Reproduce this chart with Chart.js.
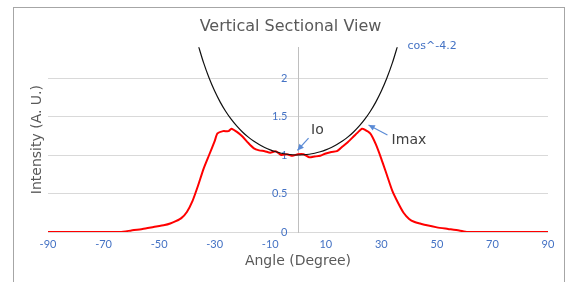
<!DOCTYPE html>
<html>
<head>
<meta charset="utf-8">
<script src="https://cdn.jsdelivr.net/npm/chart.js@4"></script>
<style>
  html, body { margin: 0; padding: 0; background: #fff; }
  canvas { display: block; }
</style>
</head>
<body>
<canvas id="chart" width="569" height="282"></canvas>
<script>
// measured red curve (angle, intensity)
const angles = [-90, -80, -70, -64, -60, -56, -52, -48, -46, -44, -42, -40, -38, -36, -34, -32, -30, -29, -27, -25, -24, -22, -20, -18, -16, -14, -12, -10, -8, -6, -4, -2, 0, 2, 4, 6, 8, 10, 12, 14, 16, 18, 20, 22, 23, 24, 26, 28, 30, 32, 34, 36, 38, 40, 42, 44, 46, 50, 54, 58, 61, 70, 80, 90];
const intensity = [0, 0, 0, 0, 0.02, 0.04, 0.065, 0.09, 0.11, 0.14, 0.18, 0.26, 0.40, 0.60, 0.82, 1.00, 1.18, 1.28, 1.31, 1.31, 1.34, 1.30, 1.24, 1.16, 1.09, 1.06, 1.05, 1.03, 1.05, 1.00, 1.01, 0.99, 1.01, 1.01, 0.97, 0.98, 0.99, 1.02, 1.04, 1.05, 1.11, 1.17, 1.24, 1.31, 1.34, 1.33, 1.28, 1.14, 0.95, 0.74, 0.53, 0.38, 0.25, 0.17, 0.13, 0.11, 0.09, 0.06, 0.04, 0.02, 0, 0, 0, 0];

// cos^-4.2 reference curve
const cosAngles = [-36, -34, -32, -30, -28, -26, -24, -22, -20, -18, -16, -14, -12, -10, -8, -6, -4, -2, 0, 2, 4, 6, 8, 10, 12, 14, 16, 18, 20, 22, 24, 26, 28, 30, 32, 34, 36];
const cosValues = [2.435, 2.199, 1.999, 1.830, 1.687, 1.565, 1.462, 1.374, 1.299, 1.235, 1.181, 1.135, 1.097, 1.066, 1.042, 1.023, 1.010, 1.003, 1.000, 1.003, 1.010, 1.023, 1.042, 1.066, 1.097, 1.135, 1.181, 1.235, 1.299, 1.374, 1.462, 1.565, 1.687, 1.830, 1.999, 2.199, 2.435];

const xTicks = [-90, -70, -50, -30, -10, 10, 30, 50, 70, 90];
const yTicks = [0, 0.5, 1, 1.5, 2];

const blue = "#4472c4";
const gray = "#595959";
const face = "'DejaVu Sans', sans-serif";

const toPoints = (xs, ys) => xs.map((x, i) => ({ x: x, y: ys[i] }));

const frame = {
    id: "frame",
    beforeDraw(chart) {
        const c = chart.ctx;
        c.save();
        c.fillStyle = "#fff";
        c.fillRect(0, 0, chart.width, chart.height);
        c.strokeStyle = "#a6a6a6";
        c.lineWidth = 1;
        c.strokeRect(13.5, 7.5, 551, 300);
        c.restore();
    },
};

function arrow(c, x1, y1, x2, y2) {
    const a = Math.atan2(y2 - y1, x2 - x1);
    c.beginPath();
    c.moveTo(x1, y1);
    c.lineTo(x2, y2);
    c.stroke();
    c.beginPath();
    c.moveTo(x2, y2);
    c.lineTo(x2 - 7 * Math.cos(a - 0.45), y2 - 7 * Math.sin(a - 0.45));
    c.lineTo(x2 - 7 * Math.cos(a + 0.45), y2 - 7 * Math.sin(a + 0.45));
    c.closePath();
    c.fill();
}

const notes = {
    id: "notes",
    afterDatasetsDraw(chart) {
        const c = chart.ctx;
        const sx = chart.scales.x;
        const sy = chart.scales.y;
        const px = (v) => sx.getPixelForValue(v);
        const py = (v) => sy.getPixelForValue(v);
        c.save();
        c.textBaseline = "middle";
        c.font = "11px " + face;
        c.fillStyle = blue;
        c.textAlign = "left";
        c.fillText("cos^-4.2", px(39.4), py(2.42));
        c.font = "14px " + face;
        c.fillStyle = "#404040";
        c.textAlign = "center";
        c.fillText("Io", px(7), py(1.32));
        c.textAlign = "left";
        c.fillText("Imax", px(33.7), py(1.19));
        c.strokeStyle = "#5b8bd6";
        c.fillStyle = "#5b8bd6";
        c.lineWidth = 1.2;
        arrow(c, px(3.8), py(1.22), px(-0.2), py(1.06));
        arrow(c, px(32.2), py(1.26), px(25.4), py(1.39));
        c.restore();
    },
};

new Chart(document.getElementById("chart"), {
    type: "line",
    data: {
        datasets: [
            {
                label: "cos^-4.2",
                data: toPoints(cosAngles, cosValues),
                borderColor: "#111",
                borderWidth: 1.2,
                pointRadius: 0,
                tension: 0.3,
            },
            {
                label: "Intensity",
                data: toPoints(angles, intensity),
                borderColor: "#ff0000",
                borderWidth: 2,
                pointRadius: 0,
                tension: 0.2,
            },
        ],
    },
    options: {
        responsive: false,
        animation: false,
        layout: { padding: { left: 12, right: 0, top: 0, bottom: 0 } },
        plugins: {
            legend: { display: false },
            tooltip: { enabled: false },
            title: {
                display: true,
                text: "Vertical Sectional View",
                color: gray,
                font: { family: face, size: 16, weight: "normal" },
                padding: { top: 17, bottom: 11 },
            },
        },
        scales: {
            x: {
                type: "linear",
                min: -90,
                max: 90,
                afterBuildTicks: (s) => { s.ticks = xTicks.map((v) => ({ value: v })); },
                afterFit: (s) => { s.height = 50; },
                grid: { display: false, drawTicks: false },
                border: { display: false },
                ticks: { color: blue, font: { family: "Lato", size: 11 }, padding: 6 },
                title: {
                    display: true,
                    text: "Angle (Degree)",
                    color: gray,
                    font: { family: face, size: 14 },
                    padding: { top: 0, bottom: 12 },
                },
            },
            y: {
                min: 0,
                max: 2.4,
                position: "left",
                afterBuildTicks: (s) => { s.ticks = yTicks.map((v) => ({ value: v })); },
                afterFit: (s) => { s.width = 36; },
                grid: { color: "#d9d9d9", drawTicks: false },
                border: { display: false },
                ticks: { display: false },
                title: {
                    display: true,
                    text: "Intensity (A. U.)",
                    color: gray,
                    font: { family: face, size: 14 },
                    padding: { top: 17, bottom: 0 },
                },
            },
            // vertical axis line crossing at 0 degrees
            yAxisLine: {
                axis: "y",
                min: 0,
                max: 2.4,
                position: { x: 0 },
                grid: { display: false, drawTicks: false },
                border: { display: true, color: "#bfbfbf" },
                ticks: { display: false },
            },
            // its labels, set a little left of the line
            yLabels: {
                axis: "y",
                min: 0,
                max: 2.4,
                position: { x: -3.8 },
                afterBuildTicks: (s) => { s.ticks = yTicks.map((v) => ({ value: v })); },
                grid: { display: false, drawTicks: false },
                border: { display: false },
                ticks: {
                    color: blue,
                    font: { family: "Lato", size: 11 },
                    callback: (v) => String(v),
                },
            },
            pad: {
                axis: "y",
                position: "right",
                afterFit: (s) => { s.width = 21; },
                grid: { display: false, drawTicks: false },
                border: { display: false },
                ticks: { display: false },
            },
        },
    },
    plugins: [frame, notes],
});
</script>
</body>
</html>
